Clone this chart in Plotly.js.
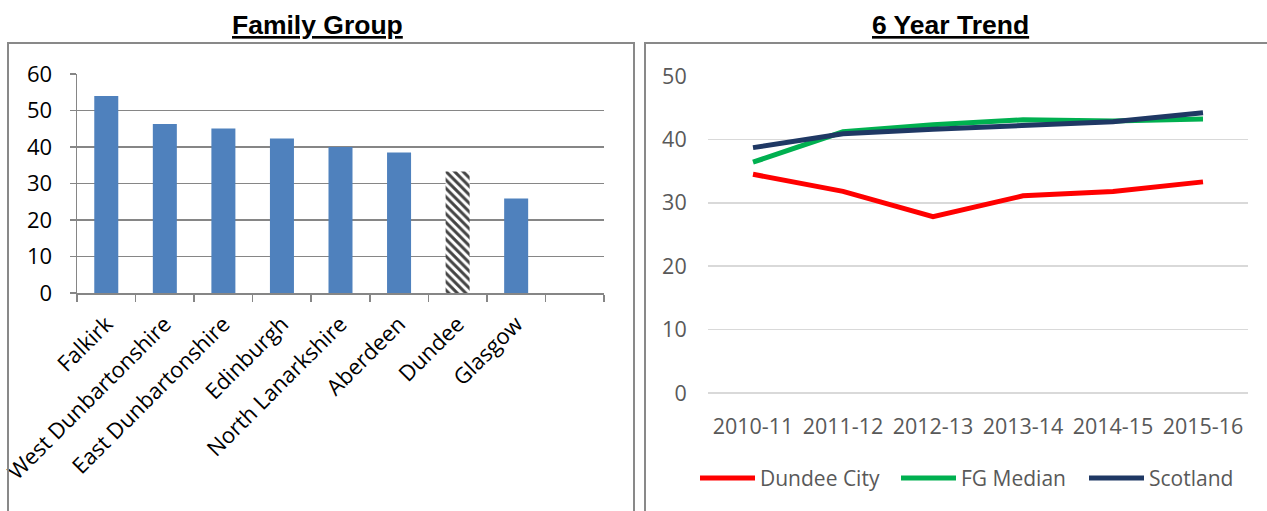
<!DOCTYPE html>
<html>
<head>
<meta charset="utf-8">
<script src="https://cdn.plot.ly/plotly-3.0.1.min.js"></script>
<style>html,body{margin:0;padding:0;background:#fff;}#chart{width:1267px;height:511px;}</style>
</head>
<body>
<div id="chart"></div>
<script>
// Family Group (left)
const councils = ["Falkirk", "West Dunbartonshire", "East Dunbartonshire", "Edinburgh", "North Lanarkshire", "Aberdeen", "Dundee", "Glasgow", " "];
const councilValues = [54, 46.3, 45.1, 42.3, 40.0, 38.5, 33.3, 25.9, null];
const highlightCouncil = "Dundee";

// 6 Year Trend (right)
const years = ["2010-11", "2011-12", "2012-13", "2013-14", "2014-15", "2015-16"];
const dundeeCity = [34.5, 31.8, 27.8, 31.1, 31.8, 33.3];
const fgMedian = [36.4, 41.2, 42.3, 43.1, 42.9, 43.2];
const scotland = [38.7, 40.9, 41.6, 42.2, 42.8, 44.2];
const seriesNames = ["Dundee City", "FG Median", "Scotland"];
const seriesColors = ["#FF0000", "#00B050", "#1F3864"];
const seriesValues = [dundeeCity, fgMedian, scotland];

const W = 1267, H = 511;
const px = v => v / W;
const py = v => (H - v) / H;

const barColors = councils.map(c => c === highlightCouncil ? "#ffffff" : "#4F81BD");
const patShapes = councils.map(c => c === highlightCouncil ? "\\" : "");

const traces = [
  {
    type: "bar", x: councils, y: councilValues, xaxis: "x", yaxis: "y",
    marker: {
      color: barColors,
      line: {width: 0},
      pattern: {shape: patShapes, fgcolor: "#000000", bgcolor: "#ffffff", fgopacity: 1, size: 6, solidity: 0.5, fillmode: "overlay"}
    },
    showlegend: false, hoverinfo: "x+y"
  }
];
seriesNames.forEach((n, i) => {
  traces.push({type: "scatter", mode: "lines", name: n, x: years, y: seriesValues[i], xaxis: "x2", yaxis: "y2",
    line: {color: seriesColors[i], width: 5}, showlegend: false});
});

const leftFont = {family: "Open Sans, sans-serif", size: 22, color: "#000000"};
const catFont = {family: "Open Sans, sans-serif", size: 22, color: "#000000"};
const greyFont = {family: "Open Sans, sans-serif", size: 21.5, color: "#595959"};
const legFont = {family: "Open Sans, sans-serif", size: 21, color: "#595959"};

// manual legend (line sample + label) placed below the trend chart
const legendStarts = [700, 901, 1089];
const legendShapes = seriesNames.map((n, i) => ({
  type: "line", xref: "paper", yref: "paper",
  x0: px(legendStarts[i]), x1: px(legendStarts[i] + 55), y0: py(478), y1: py(478),
  line: {color: seriesColors[i], width: 5}
}));
const legendLabels = seriesNames.map((n, i) => ({
  text: n, xref: "paper", yref: "paper", x: px(legendStarts[i] + 58), y: py(478),
  xanchor: "left", yanchor: "middle", showarrow: false, font: legFont
}));

const layout = {
  width: W, height: H,
  margin: {l: 0, r: 0, t: 0, b: 0},
  paper_bgcolor: "#ffffff", plot_bgcolor: "rgba(0,0,0,0)",
  bargap: 0.59,
  showlegend: false,
  xaxis: {
    domain: [px(77), px(604)], anchor: "y", automargin: false,
    type: "category", range: [-0.5, 8.5], fixedrange: true,
    showline: true, linecolor: "#868686", linewidth: 1.5,
    ticks: "outside", tickson: "boundaries", ticklen: 7, tickcolor: "#868686", tickwidth: 1.5,
    ticklabelstandoff: 8,
    tickangle: -45, tickfont: catFont, showgrid: false
  },
  yaxis: {
    domain: [py(293), py(74)], anchor: "x", automargin: false,
    range: [0, 60], dtick: 10, fixedrange: true,
    showline: true, linecolor: "#868686", linewidth: 1.5,
    ticks: "outside", ticklen: 6, tickcolor: "#868686", tickwidth: 1.5,
    ticklabelstandoff: 13,
    showgrid: true, gridcolor: "#868686", gridwidth: 1.5, zeroline: false,
    tickfont: leftFont
  },
  xaxis2: {
    domain: [px(708), px(1248)], anchor: "y2", automargin: false,
    type: "category", range: [-0.5, 5.5], fixedrange: true, tickangle: 0,
    showline: false, ticks: "outside", ticklen: 14, tickcolor: "rgba(0,0,0,0)",
    showgrid: false, tickfont: greyFont
  },
  yaxis2: {
    domain: [py(393), py(76)], anchor: "x2", automargin: false,
    range: [0, 50], dtick: 10, fixedrange: true,
    showline: false, ticks: "outside", ticklen: 16, tickcolor: "rgba(0,0,0,0)",
    showgrid: true, gridcolor: "#D9D9D9", gridwidth: 1.5,
    zeroline: true, zerolinecolor: "#D9D9D9", zerolinewidth: 1.5,
    tickfont: greyFont
  },
  shapes: [
    {type: "rect", xref: "paper", yref: "paper", x0: px(8), x1: px(634), y0: py(530), y1: py(43), line: {color: "#898989", width: 2}, fillcolor: "rgba(0,0,0,0)", layer: "above"},
    {type: "rect", xref: "paper", yref: "paper", x0: px(645), x1: px(1290), y0: py(530), y1: py(43), line: {color: "#898989", width: 2}, fillcolor: "rgba(0,0,0,0)", layer: "below"}
  ].concat(legendShapes),
  annotations: [
    {text: "<b><u>Family Group</u></b>", xref: "paper", yref: "paper", x: px(317), y: py(25), xanchor: "center", yanchor: "middle", showarrow: false,
     font: {family: "Liberation Sans, Arial, sans-serif", size: 26.5, color: "#000000"}},
    {text: "<b><u>6 Year Trend</u></b>", xref: "paper", yref: "paper", x: px(950), y: py(25), xanchor: "center", yanchor: "middle", showarrow: false,
     font: {family: "Liberation Sans, Arial, sans-serif", size: 26.5, color: "#000000"}}
  ].concat(legendLabels)
};

Plotly.newPlot("chart", traces, layout, {displayModeBar: false, staticPlot: true});
</script>
</body>
</html>
